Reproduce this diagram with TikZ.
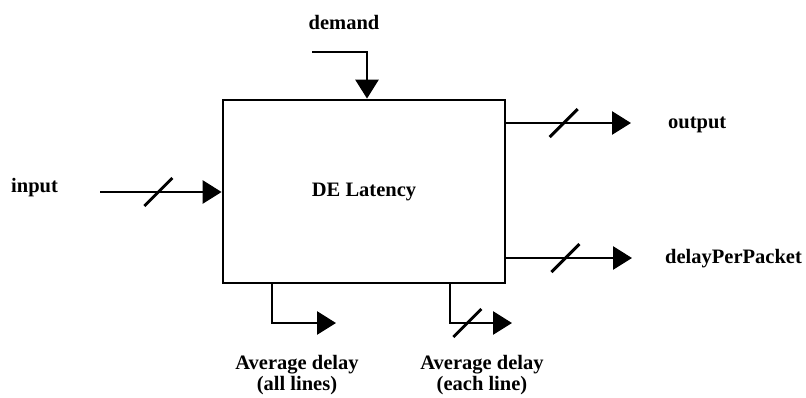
\documentclass[tikz,border=0pt]{standalone}
\usepackage{fontspec}
\setmainfont{Liberation Serif}
\usetikzlibrary{arrows.meta}
\tikzset{
  slash/.pic={\draw[-, line width=3pt] (-14,14) -- (14,-14);}
}
\begin{document}
\begin{tikzpicture}[
        x=1pt, y=-1pt,
        block/.style={
          draw,
          line width=2.8pt,
          minimum width=282pt,
          minimum height=183pt,
          inner sep=0pt,
          font=\fontsize{20.5}{22}\selectfont\bfseries
        },
        lbl/.style={
          align=center,
          inner sep=0pt,
          font=\fontsize{20.5}{21}\selectfont\bfseries
        },
        sig/.style={
          line width=2.8pt,
          -{Triangle[length=19pt, width=23pt]}
        }
      ]
      \useasboundingbox (0,0) rectangle (806,397);
      \node[block] (latency) at (364,191.5) {DE Latency};

      \node[lbl] (demand) at (344,22) {demand};
      \node[lbl, anchor=west] (input) at (11,188) {input};
      \node[lbl, anchor=west] (output) at (668,125) {output};
      \node[lbl, anchor=west] (delay) at (665,259) {delayPerPacket};
      \node[lbl] (avgall) at (297,375) {Average delay\\(all lines)};
      \node[lbl] (avgeach) at (482,375) {Average delay\\(each line)};

      \coordinate (demandin) at (312,52);
      \coordinate (inputin) at (100,192);
      \coordinate (outputout) at (631,123);
      \coordinate (delayout) at (632,258);
      \coordinate (avgallout) at (336,323);
      \coordinate (avgeachout) at (512,323);

      \draw[sig] (demandin) -| (latency.north -| 367,0);
      \draw[sig] (inputin) -- pic[pos=0.48]{slash} (latency.west |- inputin);
      \draw[sig] (latency.east |- outputout) -- pic[pos=0.46]{slash} (outputout);
      \draw[sig] (latency.east |- delayout) -- pic[pos=0.47]{slash} (delayout);
      \draw[sig] (latency.south -| 272,0) |- (avgallout);
      \draw[sig] (latency.south -| 450,0) |- pic[pos=0.64]{slash} (avgeachout);
    \end{tikzpicture}
\end{document}
